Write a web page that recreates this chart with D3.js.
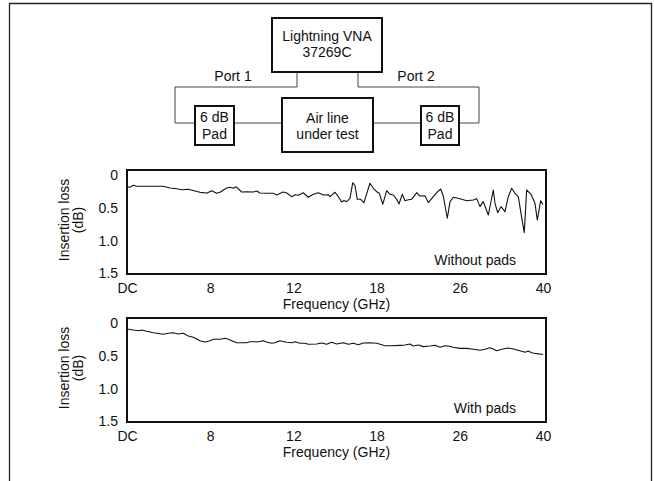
<!DOCTYPE html>
<html>
<head>
<meta charset="utf-8">
<script src="https://cdn.jsdelivr.net/npm/d3@7"></script>
<style>
  html, body { margin: 0; padding: 0; background: #fff; }
  svg { display: block; }
  text { font-family: "Liberation Sans", Arial, Helvetica, sans-serif; font-size: 14px; fill: #111; }
</style>
</head>
<body>
<svg id="chart" width="654" height="481"></svg>
<script>
// ---------- data ----------
const tickFreqs = [0, 8, 12, 18, 26, 40];
const tickLabels = ["DC", "8", "12", "18", "26", "40"];
const lossTicks = [0, 0.5, 1.0, 1.5];
const lossTickLabels = ["0", "0.5", "1.0", "1.5"];
const yTitleLines = ["Insertion loss", "(dB)"];
const xTitle = "Frequency (GHz)";
const panelNotes = ["Without pads", "With pads"];

// Without pads trace (frequency GHz, insertion loss dB)
const freqWithout = [0, 0.29, 0.61, 0.93, 3.49, 4.13, 4.78, 5.26, 5.89, 6.54, 7.02, 7.50, 7.66, 8.07, 8.31, 8.47,
  8.79, 8.95, 9.11, 9.24, 9.51, 9.75, 10.07, 10.24, 10.39, 10.71, 11.03, 11.20, 11.51, 11.68, 11.92, 12.12,
  12.35, 12.71, 13.07, 13.44, 13.80, 14.16, 14.52, 14.64, 15.00, 15.24, 15.48, 15.65, 15.84, 16.08, 16.28,
  16.44, 16.61, 16.85, 17.09, 17.52, 17.76, 18.01, 18.26, 18.59, 18.97, 19.29, 19.61, 19.93, 20.15, 20.47,
  20.73, 20.95, 21.37, 21.86, 22.17, 22.65, 22.97, 23.45, 23.78, 24.16, 24.41, 24.80, 25.06, 25.38, 26.03,
  27.16, 28.27, 28.84, 29.40, 29.95, 30.80, 31.64, 31.92, 32.38, 32.93, 33.60, 34.16, 34.73, 35.29, 35.84,
  36.41, 36.85, 37.25, 37.98, 38.65, 39.04, 39.61, 40];
const lossWithout = [0.178, 0.187, 0.157, 0.172, 0.172, 0.198, 0.209, 0.224, 0.218, 0.244, 0.264, 0.27, 0.279, 0.239, 0.279, 0.263,
  0.198, 0.187, 0.202, 0.178, 0.259, 0.254, 0.259, 0.244, 0.274, 0.279, 0.279, 0.304, 0.259, 0.274, 0.33, 0.30,
  0.309, 0.27, 0.339, 0.294, 0.27, 0.304, 0.30, 0.33, 0.263, 0.33, 0.411, 0.388, 0.406, 0.355, 0.117,
  0.16, 0.37, 0.37, 0.42, 0.126, 0.202, 0.254, 0.279, 0.446, 0.239, 0.294, 0.304, 0.37, 0.441, 0.294,
  0.391, 0.38, 0.37, 0.269, 0.32, 0.315, 0.42, 0.33, 0.269, 0.213, 0.32, 0.659, 0.406, 0.339, 0.362,
  0.391, 0.38, 0.36, 0.482, 0.406, 0.609, 0.228, 0.431, 0.574, 0.482, 0.559, 0.33, 0.202, 0.279, 0.33,
  0.644, 0.878, 0.228, 0.294, 0.431, 0.685, 0.391, 0.45];

// With pads trace
const freqWith = [0, 0.61, 1.09, 1.41, 1.89, 2.53, 3.49, 3.97, 4.45, 4.93, 5.42, 5.89, 6.38, 7.02, 7.50, 7.98,
  8.15, 8.47, 8.71, 8.87, 9.27, 9.75, 9.91, 10.31, 10.55, 10.71, 10.95, 11.11, 11.35, 11.68, 11.92, 12.12,
  12.48, 12.84, 13.07, 13.68, 14.04, 14.40, 14.76, 15.12, 15.60, 15.96, 16.32, 16.68, 17.04, 17.52, 18.01,
  18.81, 19.45, 20.25, 20.73, 21.21, 21.53, 22.01, 22.49, 23.13, 23.61, 24.10, 24.58, 24.89, 25.38, 26.03,
  27.16, 28.27, 29.40, 30.24, 31.08, 31.64, 32.21, 33.05, 34.16, 35.00, 36.13, 36.97, 37.52, 38.09, 38.93,
  39.77, 40];
const lossWith = [0.091, 0.107, 0.117, 0.107, 0.126, 0.148, 0.172, 0.157, 0.148, 0.167, 0.157, 0.198, 0.218, 0.269, 0.289, 0.269,
  0.248, 0.248, 0.233, 0.248, 0.30, 0.30, 0.285, 0.285, 0.269, 0.289, 0.309, 0.30, 0.269, 0.294, 0.30, 0.285,
  0.309, 0.309, 0.324, 0.32, 0.304, 0.324, 0.294, 0.32, 0.30, 0.324, 0.309, 0.33, 0.304, 0.30, 0.309,
  0.346, 0.346, 0.34, 0.335, 0.32, 0.35, 0.335, 0.36, 0.35, 0.34, 0.37, 0.346, 0.35, 0.37, 0.386,
  0.386, 0.40, 0.416, 0.40, 0.376, 0.396, 0.422, 0.40, 0.38, 0.396, 0.422, 0.446, 0.426, 0.452, 0.467,
  0.476, 0.476];

// Block diagram labels
const vnaLines = ["Lightning VNA", "37269C"];
const padLines = ["6 dB", "Pad"];
const dutLines = ["Air line", "under test"];
const portLabels = ["Port 1", "Port 2"];

// ---------- drawing ----------
const svg = d3.select("#chart");

// outer frame (open at bottom)
svg.append("path")
  .attr("d", "M9.5,481 V3.5 H651.5 V481")
  .attr("fill", "none").attr("stroke", "#222").attr("stroke-width", 1.3);

// ----- block diagram -----
const diag = svg.append("g");
function wirePath(d) {
  diag.append("path").attr("d", d).attr("fill", "none")
    .attr("stroke", "#444").attr("stroke-width", 1);
}
wirePath("M297,72 V87 H175 V123 H195");
wirePath("M358,72 V87 H479 V123 H459");
wirePath("M234,123 H282");
wirePath("M373,123 H421");

function box(x0, y0, x1, y1, lines, baselines) {
  diag.append("rect").attr("x", x0).attr("y", y0).attr("width", x1 - x0).attr("height", y1 - y0)
    .attr("fill", "#fff").attr("stroke", "#111").attr("stroke-width", 2);
  lines.forEach((t, i) => {
    diag.append("text").attr("x", (x0 + x1) / 2).attr("y", baselines[i])
      .attr("text-anchor", "middle").text(t);
  });
}
box(272, 18, 382, 72, vnaLines, [40.5, 57]);
box(195, 106, 234, 145, padLines, [122, 138.5]);
box(421, 106, 459, 145, padLines, [122, 138.5]);
box(282, 98, 373, 152, dutLines, [122.5, 138.5]);
diag.append("text").attr("x", 233).attr("y", 81).attr("text-anchor", "middle").text(portLabels[0]);
diag.append("text").attr("x", 416).attr("y", 81).attr("text-anchor", "middle").text(portLabels[1]);

// ----- charts -----
const left = 127, right = 546;
const x = d3.scaleLinear()
  .domain(tickFreqs)
  .range(tickFreqs.map((d, i) => left + i * 83.2));

function panel(top, freqs, losses, note) {
  const boxTop = top, boxBottom = top + 104;
  const y = d3.scaleLinear().domain([0, 1.5]).range([top + 5, top + 103.5]);
  const g = svg.append("g");

  const line = d3.line().x((d, i) => x(freqs[i])).y(d => y(d));
  g.append("path").datum(losses).attr("d", line)
    .attr("fill", "none").attr("stroke", "#111").attr("stroke-width", 1.1)
    .attr("stroke-linejoin", "round");

  g.append("rect").attr("x", left).attr("y", boxTop)
    .attr("width", right - left).attr("height", boxBottom - boxTop)
    .attr("fill", "none").attr("stroke", "#111").attr("stroke-width", 2);

  const ya = g.append("g").attr("transform", `translate(${left},0)`)
    .call(d3.axisLeft(y).tickValues(lossTicks).tickSize(0).tickPadding(9)
      .tickFormat((d, i) => lossTickLabels[i]));
  ya.select(".domain").remove();
  ya.selectAll("text").attr("fill", "#111");
  ya.attr("font-family", null).attr("font-size", null);

  const xa = g.append("g").attr("transform", `translate(0,${boxBottom})`)
    .call(d3.axisBottom(x).tickValues(tickFreqs).tickSize(0).tickPadding(9)
      .tickFormat((d, i) => tickLabels[i]));
  xa.select(".domain").remove();
  xa.selectAll("text").attr("fill", "#111");
  xa.attr("font-family", null).attr("font-size", null);

  g.append("text").attr("x", (left + right) / 2).attr("y", boxBottom + 35)
    .attr("text-anchor", "middle").text(xTitle);

  const cy = (boxTop + boxBottom) / 2 - 2;
  yTitleLines.forEach((t, i) => {
    const bx = 68.5 + i * 14;
    g.append("text").attr("transform", `translate(${bx},${cy}) rotate(-90)`)
      .attr("text-anchor", "middle").text(t);
  });

  g.append("text").attr("x", 516).attr("y", boxBottom - 9)
    .attr("text-anchor", "end").text(note);
}

panel(170, freqWithout, lossWithout, panelNotes[0]);
panel(318, freqWith, lossWith, panelNotes[1]);
</script>
</body>
</html>
